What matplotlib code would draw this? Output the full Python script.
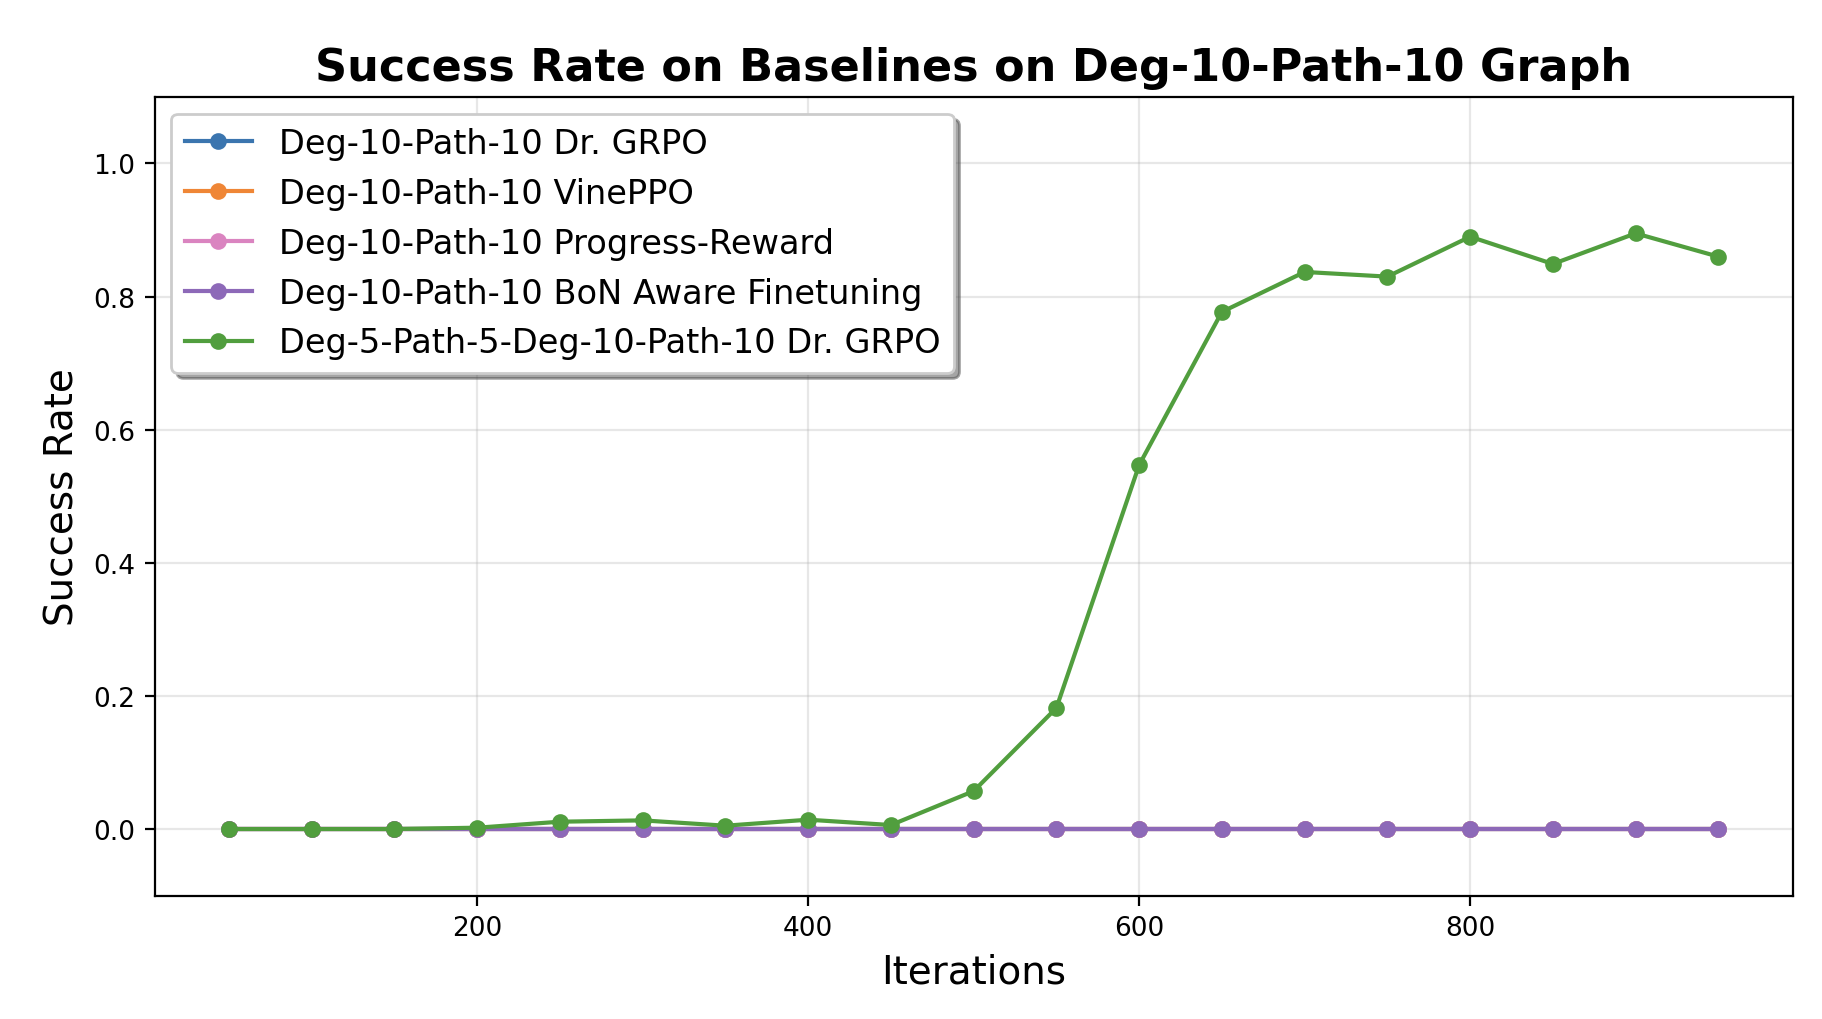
import matplotlib
matplotlib.use("Agg")
import matplotlib.pyplot as plt

iterations = [50, 100, 150, 200, 250, 300, 350, 400, 450, 500,
              550, 600, 650, 700, 750, 800, 850, 900, 950]
drgrpo = [0.0] * 19
vineppo = [0.0] * 19
progress = [0.0] * 19
bon = [0.0] * 19
curriculum = [0.0, 0.0, 0.0, 0.002, 0.011, 0.013, 0.005, 0.014, 0.006, 0.057,
              0.182, 0.547, 0.777, 0.837, 0.830, 0.890, 0.849, 0.895, 0.860]

labels = ["Deg-10-Path-10 Dr. GRPO", "Deg-10-Path-10 VinePPO",
          "Deg-10-Path-10 Progress-Reward", "Deg-10-Path-10 BoN Aware Finetuning",
          "Deg-5-Path-5-Deg-10-Path-10 Dr. GRPO"]
series = [drgrpo, vineppo, progress, bon, curriculum]
colors = ["#3B75AF", "#EF8636", "#DA84C0", "#8D69B8", "#519E3E"]

fig = plt.figure(figsize=(9.11, 5.1), dpi=200)
ax = fig.add_axes([0.0848, 0.121, 0.8992, 0.783])
for y, lab, c in zip(series, labels, colors):
    ax.plot(iterations, y, marker="o", color=c, label=lab, linewidth=1.5, markersize=5)

ax.set_ylim(-0.1, 1.1)
ax.set_xticks([200, 400, 600, 800])
ax.grid(True, alpha=0.3)
ax.set_title("Success Rate on Baselines on Deg-10-Path-10 Graph", fontsize=16, fontweight="bold")
ax.set_xlabel("Iterations", fontsize=14)
ax.set_ylabel("Success Rate", fontsize=14)
ax.tick_params(labelsize=9.5)
ax.legend(loc="upper left", fontsize=12.1, shadow=True, fancybox=True, framealpha=1)
fig.savefig("out.png", dpi=200)
